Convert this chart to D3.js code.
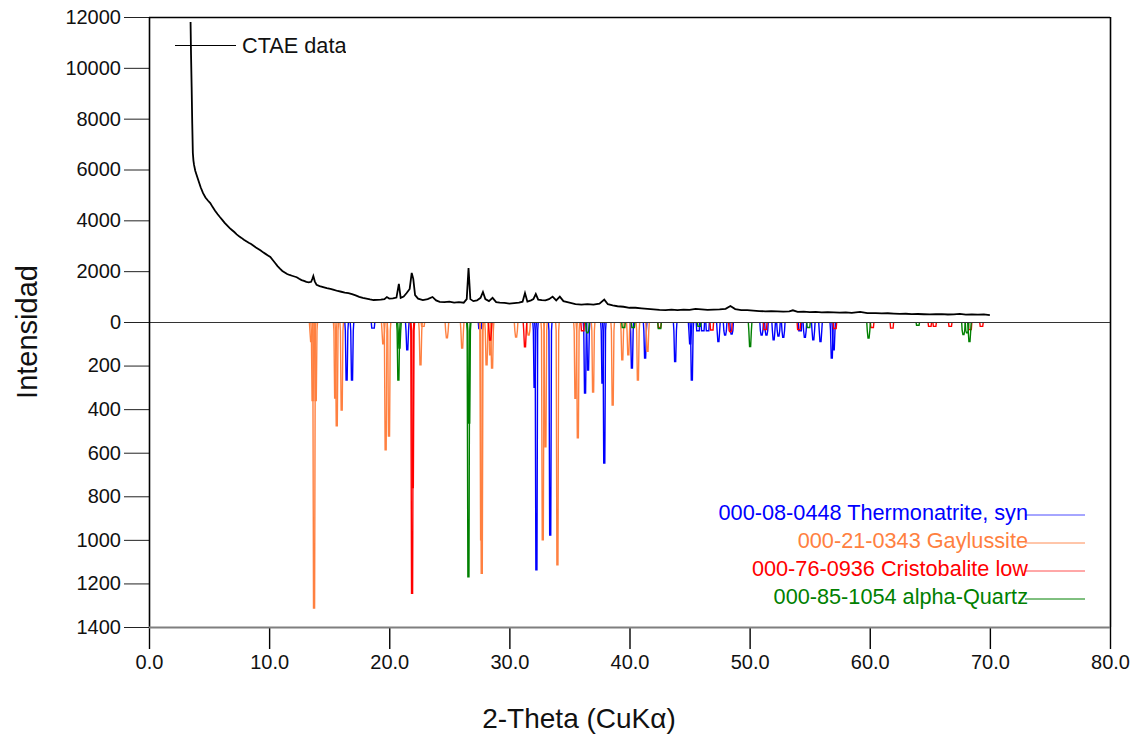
<!DOCTYPE html>
<html>
<head>
<meta charset="utf-8">
<script src="https://cdn.jsdelivr.net/npm/d3@7"></script>
<style>
  html, body { margin: 0; padding: 0; background: #fff; }
  svg { display: block; font-family: "Liberation Sans", Arial, sans-serif; }
</style>
</head>
<body>
<svg id="chart" width="1143" height="742"></svg>
<script>
// ---------- DATA ----------
const xTicks = [0, 10, 20, 30, 40, 50, 60, 70, 80];
const yUpTicks = [0, 2000, 4000, 6000, 8000, 10000, 12000];
const yDownTicks = [200, 400, 600, 800, 1000, 1200, 1400];

// measured pattern: [2-theta, intensity]
const ctaeData = [
  [3.46,11800],[3.5,10500],[3.55,9250],[3.6,7800],[3.65,6650],[3.7,6350],[3.75,6180],[3.85,5950],
  [3.95,5800],[4.1,5590],[4.3,5300],[4.5,5070],[4.7,4900],[4.9,4780],[5.1,4680],[5.3,4520],
  [5.5,4380],[5.7,4250],[5.9,4130],[6.1,4020],[6.3,3900],[6.5,3800],[6.7,3700],[6.9,3620],
  [7.1,3540],[7.3,3450],[7.5,3370],[7.7,3310],[7.9,3240],[8.1,3180],[8.3,3120],[8.5,3070],
  [8.7,3000],[8.9,2930],[9.1,2870],[9.3,2810],[9.5,2740],[9.7,2680],[9.9,2620],[10.1,2560],
  [10.3,2440],[10.5,2320],[10.7,2200],[10.9,2100],[11.1,2010],[11.3,1950],[11.5,1890],[11.7,1850],
  [11.9,1820],[12.1,1790],[12.3,1760],[12.5,1700],[12.7,1650],[12.9,1620],[13.1,1580],[13.3,1560],
  [13.5,1580],[13.6,1700],[13.68,1810],[13.8,1600],[13.95,1460],[14.2,1410],[14.5,1370],[14.8,1330],
  [15.1,1300],[15.4,1260],[15.7,1220],[16.0,1190],[16.3,1160],[16.6,1140],[16.9,1100],[17.2,1050],
  [17.5,990],[17.8,950],[18.1,920],[18.4,890],[18.7,865],[19.0,870],[19.3,880],[19.6,900],
  [19.8,980],[20.0,920],[20.3,930],[20.6,960],[20.8,1500],[20.95,950],[21.2,1000],[21.45,1140],
  [21.7,1300],[21.87,1930],[22.0,1700],[22.15,1060],[22.4,920],[22.8,865],[23.2,900],[23.6,985],
  [23.9,850],[24.2,790],[24.6,780],[25.0,800],[25.4,760],[25.8,780],[26.2,760],[26.45,900],
  [26.6,2120],[26.75,900],[27.0,820],[27.3,850],[27.6,950],[27.8,1180],[28.0,900],[28.3,820],
  [28.6,950],[28.9,780],[29.2,760],[29.6,750],[30.0,720],[30.4,740],[30.8,760],[31.1,800],
  [31.3,1140],[31.5,800],[31.8,850],[32.0,900],[32.2,1100],[32.4,880],[32.7,860],[33.0,850],
  [33.3,900],[33.6,1000],[33.9,850],[34.2,1000],[34.5,820],[35.0,760],[35.5,700],[36.0,680],
  [36.5,700],[37.0,680],[37.5,720],[37.9,880],[38.2,700],[38.6,650],[39.0,620],[39.5,600],
  [40.0,560],[40.5,560],[41.0,540],[41.5,520],[42.0,500],[42.5,480],[43.0,470],[43.5,490],
  [44.0,470],[44.5,490],[45.0,480],[45.5,520],[46.0,500],[46.5,480],[47.0,490],[47.5,500],
  [48.0,520],[48.4,630],[48.8,510],[49.3,470],[49.8,470],[50.3,450],[50.8,430],[51.3,420],
  [51.8,430],[52.3,420],[52.8,410],[53.3,420],[53.6,460],[54.0,400],[54.5,410],[55.0,390],
  [55.5,400],[56.0,380],[56.5,390],[57.0,380],[57.5,370],[58.0,380],[58.5,360],[59.2,400],
  [59.8,350],[60.5,350],[61.0,340],[61.5,345],[62.0,330],[62.5,320],[63.0,325],[63.5,310],
  [64.0,315],[64.5,305],[65.0,300],[65.5,305],[66.0,310],[66.5,295],[67.0,300],[67.5,320],
  [68.0,290],[68.5,300],[69.0,290],[69.5,300],[70.0,270]
];

// reference patterns: [2-theta, intensity] (drawn downward)
const thermonatrite = [
  [16.45,266],[16.9,266],[18.65,28],[21.5,128],[27.56,30],[32.1,300],[32.25,1138],[33.4,978],
  [36.3,326],[36.55,220],[37.75,280],[37.9,647],[40.2,211],[41.3,165],[43.8,182],[45.05,100],
  [45.19,266],[45.7,40],[46.1,40],[46.5,40],[47.4,90],[47.96,60],[48.5,55],[51.0,60],[51.4,60],
  [52.0,82],[52.4,65],[52.8,70],[54.2,40],[54.6,70],[55.3,82],[55.9,90],[56.84,166],[57.0,128]
];
const gaylussite = [
  [13.5,90],[13.62,360],[13.74,1313],[13.88,360],[15.5,349],[15.63,477],[16.04,404],[19.5,100],
  [19.7,587],[19.98,523],[22.6,197],[22.8,20],[24.8,73],[26.07,120],[27.65,1000],[27.7,1153],
  [28.1,197],[28.4,150],[28.56,211],[30.56,69],[31.6,60],[32.78,1000],[33.0,573],[34.0,1115],
  [35.5,350],[35.7,532],[36.97,321],[38.6,381],[39.4,174],[39.9,150],[40.7,266],[41.5,135]
];
const cristobalite = [
  [21.9,1245],[21.96,760],[28.4,83],[31.3,114],[36.1,40],[42.5,25],[46.85,37],[48.4,45],
  [51.3,35],[54.1,35],[57.1,30],[60.2,25],[61.84,28],[65.0,20],[65.4,20],[66.7,20],[68.35,35],[69.3,20]
];
const quartz = [
  [20.76,266],[20.85,120],[26.59,1170],[26.65,464],[36.5,50],[39.5,25],[40.3,25],[42.5,30],
  [45.8,20],[50.04,113],[54.9,25],[59.9,74],[64.0,15],[67.8,58],[68.1,50],[68.3,90]
];

const phases = [
  { name: "000-08-0448 Thermonatrite, syn", color: "#0000ff", lineColor: "#4d4dff", peaks: thermonatrite },
  { name: "000-21-0343 Gaylussite", color: "#ff8040", lineColor: "#ff8c55", peaks: gaylussite },
  { name: "000-76-0936 Cristobalite low", color: "#ff0000", lineColor: "#ff5050", peaks: cristobalite },
  { name: "000-85-1054 alpha-Quartz", color: "#008000", lineColor: "#008000", peaks: quartz }
];

// ---------- LAYOUT ----------
const L = 149, R = 1110, T = 17, Z = 322, B = 627;
const svg = d3.select("#chart");

const x = d3.scaleLinear().domain([0, 80]).range([L, R]);
const yUp = d3.scaleLinear().domain([0, 12000]).range([Z, T]);
const yDown = d3.scaleLinear().domain([0, 1400]).range([Z, B]);

// frame top / right
svg.append("line").attr("x1", L).attr("x2", R).attr("y1", T + 0.5).attr("y2", T + 0.5)
  .attr("stroke", "#000").attr("stroke-width", 1.6);
svg.append("line").attr("x1", R + 0.5).attr("x2", R + 0.5).attr("y1", T).attr("y2", B)
  .attr("stroke", "#000").attr("stroke-width", 1.6);

// reference patterns
const hw = 0.15;
phases.forEach(p => {
  const g = svg.append("g");
  p.peaks.forEach(([t, v]) => {
    const pts = [[t - hw, 0], [t - hw * 0.7, Math.min(v, 40)], [t - hw * 0.3, v],
                 [t + hw * 0.3, v], [t + hw * 0.7, Math.min(v, 40)], [t + hw, 0]];
    g.append("path")
      .attr("d", d3.line().x(d => x(d[0])).y(d => yDown(d[1]))(pts))
      .attr("fill", "none").attr("stroke", p.color).attr("stroke-width", 1.4);
  });
});

// zero line
svg.append("line").attr("x1", L).attr("x2", R).attr("y1", Z + 0.5).attr("y2", Z + 0.5)
  .attr("stroke", "#333").attr("stroke-width", 1.2);

// data curve
svg.append("path")
  .datum(ctaeData)
  .attr("d", d3.line().x(d => x(d[0])).y(d => yUp(d[1])))
  .attr("fill", "none").attr("stroke", "#000").attr("stroke-width", 1.8);

// y axes
const fmt = d3.format("d");
const gUp = svg.append("g").attr("transform", `translate(${L},0)`)
  .call(d3.axisLeft(yUp).tickValues(yUpTicks).tickSize(25).tickPadding(3).tickFormat(fmt));
const gDn = svg.append("g").attr("transform", `translate(${L},0)`)
  .call(d3.axisLeft(yDown).tickValues(yDownTicks).tickSize(25).tickPadding(3).tickFormat(fmt));
[gUp, gDn].forEach(g => {
  g.select(".domain").remove();
  g.selectAll(".tick line").attr("stroke", "#222").attr("stroke-width", 1);
  g.selectAll(".tick text").attr("font-size", 20).attr("fill", "#111")
    .attr("font-family", "'Liberation Sans', Arial, sans-serif");
});
svg.append("line").attr("x1", L + 0.5).attr("x2", L + 0.5).attr("y1", T).attr("y2", B)
  .attr("stroke", "#000").attr("stroke-width", 1.6);

// x axis
const gx = svg.append("g").attr("transform", `translate(0,${B})`)
  .call(d3.axisBottom(x).tickValues(xTicks).tickSize(22).tickPadding(6).tickFormat(d3.format(".1f")));
gx.select(".domain").remove();
gx.selectAll(".tick line").attr("stroke", "#000").attr("stroke-width", 1.4);
gx.selectAll(".tick text").attr("font-size", 20).attr("fill", "#111")
  .attr("font-family", "'Liberation Sans', Arial, sans-serif");
svg.append("line").attr("x1", L).attr("x2", R).attr("y1", B + 0.5).attr("y2", B + 0.5)
  .attr("stroke", "#7f7f7f").attr("stroke-width", 2);

// axis titles
svg.append("text").attr("x", 579).attr("y", 718).attr("text-anchor", "middle")
  .attr("dominant-baseline", "central").attr("font-size", 28).attr("fill", "#111")
  .text("2-Theta (CuKα)");
svg.append("text").attr("transform", "translate(27,332) rotate(-90)").attr("text-anchor", "middle")
  .attr("dominant-baseline", "central").attr("font-size", 29).attr("fill", "#111")
  .text("Intensidad");

// CTAE legend
svg.append("line").attr("x1", 175).attr("x2", 236).attr("y1", 45.5).attr("y2", 45.5)
  .attr("stroke", "#000").attr("stroke-width", 1);
svg.append("clipPath").attr("id", "lclip").append("rect")
  .attr("x", 230).attr("y", 20).attr("width", 116).attr("height", 50);
svg.append("text").attr("x", 242).attr("y", 45).attr("dominant-baseline", "central")
  .attr("font-size", 21.7).attr("fill", "#111").attr("clip-path", "url(#lclip)")
  .text("CTAE data");

// phase legend
const legY = [515, 543, 571, 599];
phases.forEach((p, i) => {
  svg.append("line").attr("x1", 1025).attr("x2", 1085).attr("y1", legY[i]).attr("y2", legY[i])
    .attr("stroke", p.lineColor).attr("stroke-width", 1);
  svg.append("text").attr("x", 1028).attr("y", legY[i] - 3).attr("text-anchor", "end")
    .attr("dominant-baseline", "central").attr("font-size", 21.7).attr("fill", p.color)
    .text(p.name);
});
</script>
</body>
</html>
